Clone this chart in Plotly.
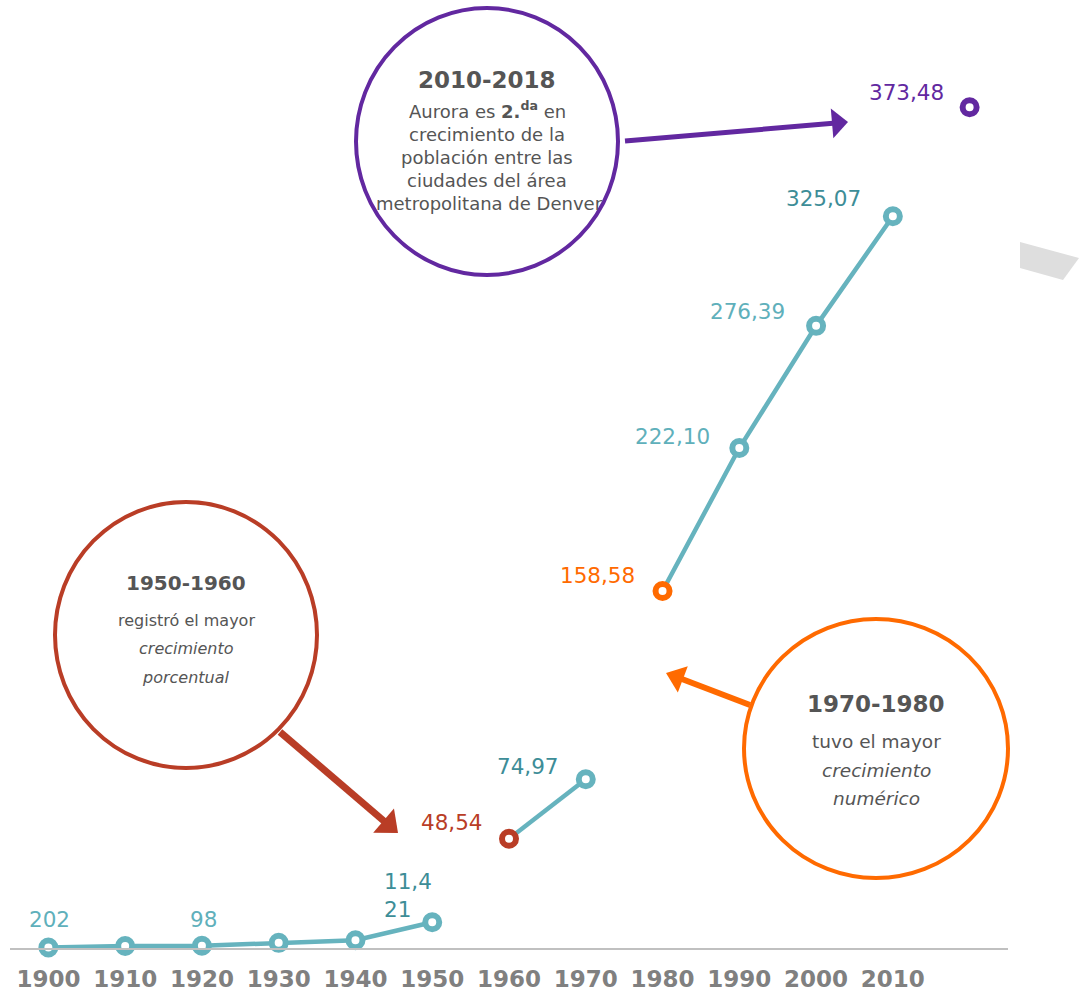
import math
import plotly.graph_objects as go

# Población de Aurora (miles de habitantes)
years = ["1900", "1910", "1920", "1930", "1940", "1950", "1960",
         "1970", "1980", "1990", "2000", "2010", "2018"]
population = [0.202, 0.910, 0.98, 2.295, 3.437, 11.421, 48.54,
              74.97, 158.58, 222.10, 276.39, 325.07, 373.48]
value_labels = ["202", "", "98", "", "", "11,4<br>21", "48,54",
                "74,97", "158,58", "222,10", "276,39", "325,07", "373,48"]
# Tramos conectados de la serie (índice inicial, índice final exclusivo)
segments = [(0, 6), (6, 8), (8, 12)]

TEAL = "#66b3be"
TEAL_LIGHT = "#5fb0bb"
TEAL_DARK = "#3d8d97"
RED = "#b93d26"
ORANGE = "#ff6a00"
PURPLE = "#6228a0"
GRAY_TXT = "#555555"
FONT = "DejaVu Sans"

marker_colors = [TEAL] * 6 + [RED, TEAL, ORANGE, TEAL, TEAL, TEAL, PURPLE]
label_colors = [TEAL_LIGHT, TEAL_LIGHT, TEAL_LIGHT, TEAL_LIGHT, TEAL_LIGHT,
                TEAL_DARK, RED, TEAL_DARK, ORANGE, TEAL_LIGHT, TEAL_LIGHT,
                TEAL_DARK, PURPLE]
# Posición de cada etiqueta respecto a su punto (anclaje, desplazamiento x, y)
label_place = [("center", 1, 28), ("center", 0, 0), ("center", 2, 26),
               ("center", 0, 0), ("center", 0, 0), ("left", -50, 27),
               ("right", -24, 16), ("right", -25, 13), ("right", -26, 16),
               ("right", -27, 12), ("right", -29, 14), ("right", -30, 18),
               ("right", -24, 15)]

idx = list(range(len(years)))

W, H = 1079, 993
ML, MR, MT, MB = 10, 71, 0, 45
PW, PH = W - ML - MR, H - MT - MB


def P(px, py):
    """Pixel position on the page -> paper coordinates."""
    return (px - ML) / PW, (H - MB - py) / PH


fig = go.Figure()

for a, b in segments:
    fig.add_trace(go.Scatter(
        x=idx[a:b], y=population[a:b], mode="lines",
        line=dict(color=TEAL, width=4.5), hoverinfo="skip", cliponaxis=False))

fig.add_trace(go.Scatter(
    x=idx, y=population, mode="markers", cliponaxis=False,
    marker=dict(size=14, color="white", symbol="circle",
                line=dict(color=marker_colors, width=6)),
    hoverinfo="skip"))

annotations = []
for i, (txt, col, (anc, dx, dy)) in enumerate(zip(value_labels, label_colors, label_place)):
    if not txt:
        continue
    annotations.append(dict(
        x=idx[i], y=population[i], xref="x", yref="y", text=txt,
        showarrow=False, xanchor=anc, yanchor="middle", align="left",
        xshift=dx, yshift=dy, font=dict(family=FONT, size=21.5, color=col)))

shapes = []


def circle(x0, y0, x1, y1, color):
    ax0, ay0 = P(x0, y1)
    ax1, ay1 = P(x1, y0)
    shapes.append(dict(type="circle", xref="paper", yref="paper",
                       x0=ax0, y0=ay0, x1=ax1, y1=ay1,
                       line=dict(color=color, width=4), fillcolor="rgba(0,0,0,0)"))


def text_line(cx, cy, txt, size, bold=False, italic=False):
    px, py = P(cx, cy)
    annotations.append(dict(
        x=px, y=py, xref="paper", yref="paper", text=txt, showarrow=False,
        xanchor="center", yanchor="middle",
        font=dict(family=FONT, size=size, color=GRAY_TXT,
                  weight="bold" if bold else "normal",
                  style="italic" if italic else "normal")))


def arrow(tail, tip, color, width, head_len, head_half):
    """Straight arrow drawn as a line plus a filled triangular head."""
    dx, dy = tip[0] - tail[0], tip[1] - tail[1]
    d = math.hypot(dx, dy)
    ux, uy = dx / d, dy / d
    nx, ny = -uy, ux
    bx, by = tip[0] - head_len * ux, tip[1] - head_len * uy
    x0, y0 = P(*tail)
    x1, y1 = P(bx + ux, by + uy)
    shapes.append(dict(type="line", xref="paper", yref="paper",
                       x0=x0, y0=y0, x1=x1, y1=y1,
                       line=dict(color=color, width=width)))
    pts = [P(*tip), P(bx + head_half * nx, by + head_half * ny),
           P(bx - head_half * nx, by - head_half * ny)]
    path = "M " + " L ".join(f"{x},{y}" for x, y in pts) + " Z"
    shapes.append(dict(type="path", xref="paper", yref="paper", path=path,
                       fillcolor=color, line=dict(width=0)))


# 2010-2018
circle(356, 8, 618, 275, PURPLE)
text_line(487, 80, "2010-2018", 23, bold=True)
text_line(487, 110, "Aurora es <b>2.</b><sup><b>da</b></sup> en", 18)
text_line(487, 134, "crecimiento de la", 18)
text_line(487, 157, "población entre las", 18)
text_line(487, 180, "ciudades del área", 18)
text_line(489, 203, "metropolitana de Denver", 18)
arrow((625, 141), (848, 122), PURPLE, 5, 16, 15)

# 1950-1960
circle(55, 502, 317, 768, RED)
text_line(186, 583, "1950-1960", 20, bold=True)
text_line(186, 620, "registró el mayor", 16)
text_line(186, 648, "crecimiento", 16, italic=True)
text_line(186, 677, "porcentual", 16, italic=True)
arrow((280, 732), (398, 833), RED, 7, 19, 16)

# 1970-1980
circle(744, 619, 1008, 878, ORANGE)
text_line(876, 704, "1970-1980", 23, bold=True)
text_line(876, 741, "tuvo el mayor", 18.5)
text_line(876, 770, "crecimiento", 18.5, italic=True)
text_line(876, 798, "numérico", 18.5, italic=True)
arrow((750, 705), (666, 673), ORANGE, 6, 18, 14)

# Forma gris decorativa en el borde derecho
pts = [P(1020, 242), P(1079, 258), P(1063, 280), P(1020, 268)]
path = "M " + " L ".join(f"{x},{y}" for x, y in pts) + " Z"
shapes.append(dict(type="path", xref="paper", yref="paper", path=path,
                   fillcolor="#dedede", line=dict(width=0)))

fig.update_layout(
    width=W, height=H,
    margin=dict(l=ML, r=MR, t=MT, b=MB),
    paper_bgcolor="white", plot_bgcolor="white",
    showlegend=False,
    shapes=shapes, annotations=annotations,
    xaxis=dict(range=[-0.5, 12.5], tickmode="array", tickvals=idx[:12],
               ticktext=years[:12], showgrid=False, zeroline=False,
               showline=True, linecolor="#c0c0c0", linewidth=2,
               ticks="", ticklabelstandoff=9,
               tickfont=dict(family=FONT, size=23, color="#808080", weight="bold")),
    yaxis=dict(range=[0, PH / 2.251], visible=False, showgrid=False, zeroline=False),
)

fig.write_html("out.html")
